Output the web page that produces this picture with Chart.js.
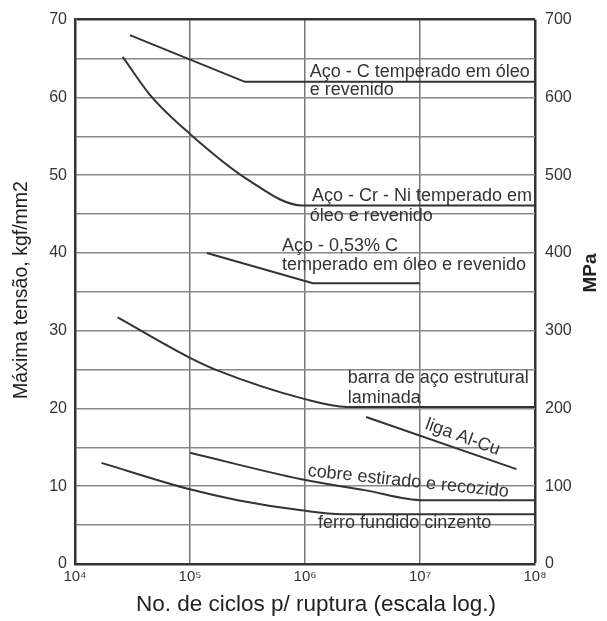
<!DOCTYPE html>
<html>
<head>
<meta charset="utf-8">
<script src="https://cdn.jsdelivr.net/npm/chart.js@4"></script>
<style>
  html, body { margin: 0; padding: 0; background: #fff; }
</style>
</head>
<body>
<canvas id="myChart" width="607" height="621"></canvas>
<script>
// ciclos (N) e tensão máxima (kgf/mm2)
const acoC_N = [3.0e4, 3.0e5, 1e8];
const acoC_S = [68, 62, 62];

const acoCrNi_N = [2.6e4, 4.5e4, 1e5, 3.2e5, 9.5e5, 1e8];
const acoCrNi_S = [65.2, 60.3, 55.3, 49.4, 46.1, 46.1];

const aco053_N = [1.4e5, 1.17e6, 1e7];
const aco053_S = [40, 36.1, 36.1];

const barra_N = [2.35e4, 1e5, 1.66e5, 1e6, 2.3e6, 1e8];
const barra_S = [31.7, 26.5, 25.0, 21.2, 20.2, 20.2];

const ligaAlCu_N = [3.4e6, 6.9e7];
const ligaAlCu_S = [18.9, 12.2];

const cobre_N = [1e5, 9.3e5, 3.3e6, 1.07e7, 1e8];
const cobre_S = [14.3, 10.9, 9.5, 8.2, 8.2];

const ferro_N = [1.7e4, 1e5, 2.6e5, 9.3e5, 2.1e6, 1e8];
const ferro_S = [13.0, 9.6, 8.2, 6.9, 6.4, 6.4];

const xTicks = [1e4, 1e5, 1e6, 1e7, 1e8];
const xTickLabels = ["10⁴", "10⁵", "10⁶", "10⁷", "10⁸"];

// rótulos das curvas: texto, posição (N, kgf/mm2), ângulo
const labelTexts = [
  "Aço - C temperado em óleo", "e revenido",
  "Aço - Cr - Ni temperado em", "óleo e revenido",
  "Aço - 0,53% C", "temperado em óleo e revenido",
  "barra de aço estrutural", "laminada",
  "liga Al-Cu", "cobre estirado e recozido", "ferro fundido cinzento"
];
const labelN = [1.1e6, 1.1e6, 1.15e6, 1.1e6, 6.3e5, 6.3e5, 2.35e6, 2.35e6, 2.35e7, 7.9e6, 1.3e6];
const labelS = [63.2, 60.9, 47.3, 44.8, 40.9, 38.4, 23.9, 21.4, 16.3, 10.6, 5.3];
const labelAngle = [0, 0, 0, 0, 0, 0, 0, 0, 20, 6, 0];

const toPoints = (ns, ss) => ns.map((n, i) => ({ x: n, y: ss[i] }));

const ctx = document.getElementById("myChart");
const fontFamily = "'Liberation Sans', Arial, sans-serif";

const lineStyle = (data, curved) => ({
  data: data,
  showLine: true,
  borderColor: "#333",
  borderWidth: 2,
  pointRadius: 0,
  fill: false,
  tension: curved ? 0.4 : 0,
  cubicInterpolationMode: curved ? "monotone" : "default",
});

const textPlugin = {
  id: "texts",
  afterDraw(chart) {
    const c = chart.ctx;
    const x = chart.scales.x;
    const y = chart.scales.y;
    c.save();
    c.fillStyle = "#333";
    c.font = "18px " + fontFamily;
    c.textBaseline = "middle";
    labelTexts.forEach((t, i) => {
      const px = x.getPixelForValue(labelN[i]);
      const py = y.getPixelForValue(labelS[i]);
      c.save();
      c.translate(px, py);
      if (labelAngle[i]) {
        c.rotate((labelAngle[i] * Math.PI) / 180);
        c.textAlign = "center";
      } else {
        c.textAlign = "left";
      }
      c.fillText(t, 0, 0);
      c.restore();
    });

    // títulos dos eixos
    c.fillStyle = "#222";
    c.textAlign = "center";
    c.font = "22.5px " + fontFamily;
    c.fillText("No. de ciclos p/ ruptura (escala log.)", 316, 605);

    c.save();
    c.translate(22, 290);
    c.rotate(-Math.PI / 2);
    c.font = "19.5px " + fontFamily;
    c.fillText("Máxima tensão, kgf/mm2", 0, 0);
    c.restore();

    c.save();
    c.translate(591, 273);
    c.rotate(-Math.PI / 2);
    c.font = "bold 19px " + fontFamily;
    c.fillText("MPa", 0, 0);
    c.restore();
    c.restore();
  },
};

new Chart(ctx, {
  type: "scatter",
  data: {
    datasets: [
      lineStyle(toPoints(acoC_N, acoC_S), false),
      lineStyle(toPoints(acoCrNi_N, acoCrNi_S), true),
      lineStyle(toPoints(aco053_N, aco053_S), false),
      lineStyle(toPoints(barra_N, barra_S), true),
      lineStyle(toPoints(ligaAlCu_N, ligaAlCu_S), false),
      lineStyle(toPoints(cobre_N, cobre_S), true),
      lineStyle(toPoints(ferro_N, ferro_S), true),
    ],
  },
  options: {
    responsive: false,
    animation: false,
    layout: { padding: { top: 14, left: 0, right: 0, bottom: 0 } },
    plugins: {
      legend: { display: false },
      tooltip: { enabled: false },
    },
    scales: {
      x: {
        type: "logarithmic",
        min: 1e4,
        max: 1e8,
        afterBuildTicks: (scale) => {
          scale.ticks = xTicks.map((v) => ({ value: v }));
        },
        afterFit: (scale) => {
          scale.height = 57;
        },
        ticks: {
          callback: (v, i) => xTickLabels[i],
          font: { size: 15, family: fontFamily },
          color: "#333",
          padding: 4,
          maxRotation: 0,
          autoSkip: false,
        },
        grid: {
          color: (c) => (c.index === xTicks.length - 1 ? "#333" : "#777"),
          lineWidth: (c) => (c.index === xTicks.length - 1 ? 2.5 : 1.5),
          drawTicks: false,
        },
        border: { color: "#333", width: 2.5 },
      },
      y: {
        position: "left",
        min: 0,
        max: 70,
        afterFit: (scale) => {
          scale.width = 75;
        },
        ticks: {
          stepSize: 5,
          callback: (v) => (v % 10 === 0 ? v : ""),
          font: { size: 16, family: fontFamily },
          color: "#333",
          padding: 8,
          autoSkip: false,
        },
        grid: {
          color: (c) => (c.tick.value === 70 ? "#333" : "#888"),
          lineWidth: (c) => (c.tick.value === 70 ? 2.5 : 1.5),
          drawTicks: false,
        },
        border: { color: "#333", width: 2.5 },
      },
      y2: {
        position: "right",
        min: 0,
        max: 700,
        afterFit: (scale) => {
          scale.width = 72;
        },
        ticks: {
          stepSize: 100,
          font: { size: 16, family: fontFamily },
          color: "#333",
          padding: 10,
        },
        grid: { drawOnChartArea: false, drawTicks: false },
        border: { display: false },
      },
    },
  },
  plugins: [textPlugin],
});
</script>
</body>
</html>
